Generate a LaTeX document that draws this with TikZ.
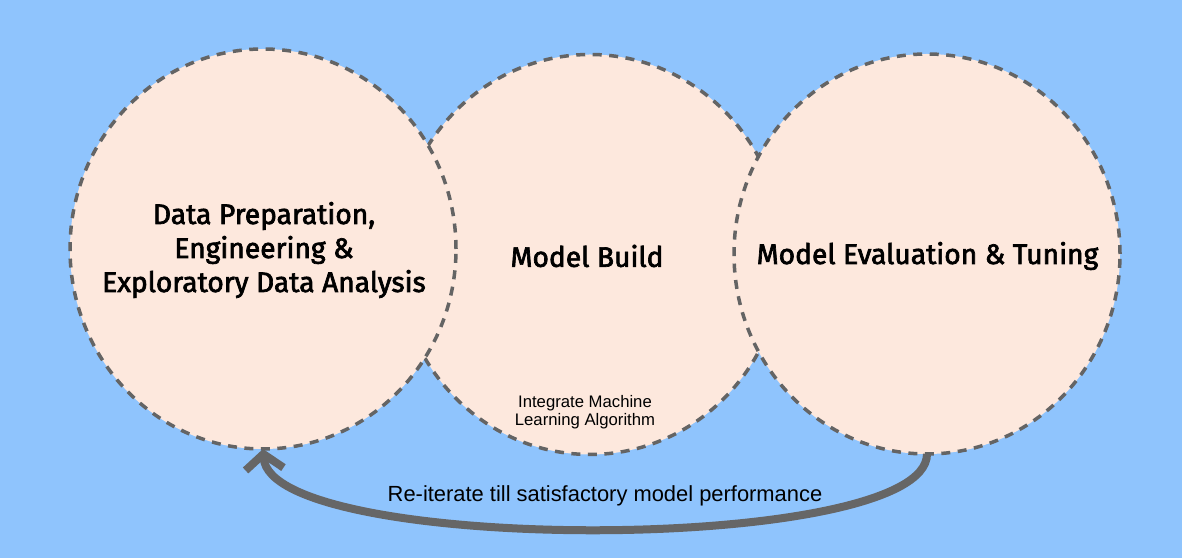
\documentclass[tikz,border=0pt]{standalone}
\usepackage{fontspec}
\setmainfont{Liberation Sans}
\newfontfamily\headfont{Fira Sans}[FakeBold=2.4]
\usetikzlibrary{shapes.geometric,arrows.meta}
\definecolor{skyblue}{RGB}{143,196,253}
\definecolor{peach}{RGB}{253,232,221}
\definecolor{dashgray}{RGB}{100,100,100}
\definecolor{arrowgray}{RGB}{102,102,102}
\begin{document}
\begin{tikzpicture}[x=1pt,y=1pt,stage/.style={shape=ellipse,draw=dashgray,fill=peach,line width=3.5pt,dash pattern=on 9pt off 7.5pt,minimum width=386pt,minimum height=400pt,inner sep=0pt,outer sep=0pt},title/.style={align=center,font=\headfont\fontsize{28.2}{34}\selectfont},note/.style={align=center,font=\fontsize{16.7}{18.5}\selectfont},feedback/.style={draw=arrowgray,line width=8pt,-{Straight Barb[length=15pt,width=38pt,line cap=butt,line join=miter]}}]

\fill[skyblue] (0,0) rectangle (1182,558);

\node[stage] (build) at (590,303.5) {};
\node[stage] (prep) at (263,309) {};
\node[stage] (eval) at (927,304) {};

\node[title] (prept) at (264,308) {Data Preparation,\\Engineering \&\\Exploratory Data Analysis};
\node[title] (buildt) at (587,302) {Model Build};
\node[title] (evalt) at (927.5,302) {Model Evaluation \& Tuning};

\node[note] (algo) at (585,146) {Integrate Machine\\Learning Algorithm};
\node[note,font=\fontsize{21.9}{24}\selectfont] (iter) at (605,62) {Re-iterate till satisfactory model performance};

\draw[feedback] (eval.south) .. controls +(0,-101) and +(8,-106) .. (prep.south);
\end{tikzpicture}
\end{document}
